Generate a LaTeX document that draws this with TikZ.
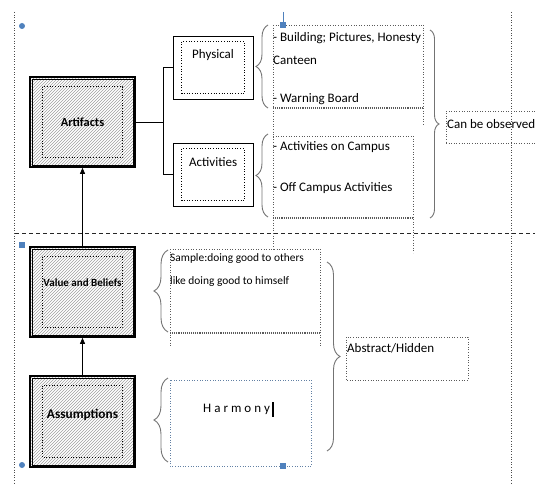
\documentclass[tikz,border=0pt]{standalone}
\usepackage{fontspec}
\setmainfont{Carlito}
\usetikzlibrary{patterns,decorations.pathreplacing,arrows.meta,calc}
\definecolor{handleblue}{RGB}{79,129,189}
\definecolor{boxgray}{RGB}{90,90,90}

\tikzset{
  layer/.style={draw=black, line width=1.6pt, pattern=north east lines, pattern color=gray!75,
    minimum width=105pt, inner sep=0pt, font=\bfseries},
  subbox/.style={draw=black, line width=0.8pt, fill=white, minimum width=80pt, minimum height=63pt},
  txt/.style={anchor=west, inner sep=0pt, font=\fontsize{13}{15}\selectfont},
  smalltxt/.style={anchor=west, inner sep=0pt, font=\fontsize{11.4}{13}\selectfont},
  tbox/.style={draw=boxgray, dotted, line width=0.6pt},
  tboxbottom/.style={draw=boxgray, densely dotted, line width=1.1pt},
  bracket/.style={draw=gray!90!black, line width=0.9pt, decorate},
  guide/.style={draw=black!70, dotted, line width=0.6pt},
  link/.style={draw=black, line width=0.8pt},
  uparrow/.style={draw=black, line width=0.8pt, -{Triangle[length=6pt,width=5pt]}},
  handle/.style={fill=handleblue, draw=none}
}
\newcommand{\lsp}{\hspace{3pt}}

\begin{document}
\begin{tikzpicture}[x=1pt, y=-1pt]
\useasboundingbox (0,0) rectangle (535,484);

% page guides
\draw[guide] (14,12) -- (14,484);
\draw[guide] (511,12) -- (511,484);
\draw[black!85, line width=0.8pt, dash pattern=on 4pt off 3pt] (15,233) -- (535,233);

% culture layers
\node[layer, minimum height=90pt] (art) at (82.5,122) {};
\node[layer, minimum height=90pt] (val) at (82.5,292) {};
\node[layer, minimum height=91pt] (asm) at (82.5,421.5) {};
\foreach \b in {art,val,asm}{
  \draw[line width=0.5pt] ($(\b.north west)+(2.6,2.6)$) rectangle ($(\b.south east)+(-2.6,-2.6)$);
  \draw[black, dotted, line width=0.7pt] ($(\b.north west)+(13,10.5)$) rectangle ($(\b.south east)+(-13,-10.5)$);
}
\node[font=\bfseries\fontsize{12.4}{14}\selectfont] (artlbl) at (art.center) {Artifacts};
\node[font=\bfseries\fontsize{11}{13}\selectfont] (vallbl) at ($(val.center)+(0,-9)$) {Value and Beliefs};
\node[font=\bfseries\fontsize{13.3}{15}\selectfont] (asmlbl) at ($(asm.center)+(0,-7)$) {Assumptions};

\draw[uparrow] (val.north) -- (art.south);
\draw[uparrow] (asm.north) -- (val.south);

% artifact categories
\node[subbox] (phys) at (213,67.5) {};
\node[subbox] (act) at (213,174.5) {};
\foreach \b in {phys,act}{
  \draw[black, dotted, line width=0.7pt] ($(\b.north west)+(9,6)$) rectangle ($(\b.south east)+(-9,-6)$);
}
\node[txt] (physlbl) at (192,55) {Physical};
\node[txt] (actlbl) at (189,162) {Activities};

\coordinate (fork) at (163,122);
\draw[link] (art.east) -- (fork);
\draw[link] (phys.west) -| (fork);
\draw[link] (act.west) -| (fork);

% braces
\draw[bracket, decoration={brace, amplitude=12pt}] (268,108) -- (268,25);
\draw[bracket, decoration={brace, amplitude=12pt}] (268,217) -- (268,134);
\draw[bracket, decoration={brace, amplitude=9pt}] (430,30) -- (430,218);
\draw[bracket, decoration={brace, amplitude=14pt}] (168,332) -- (168,250);
\draw[bracket, decoration={brace, amplitude=14pt}] (168,462) -- (168,378);
\draw[bracket, decoration={brace, amplitude=13pt}] (327,262) -- (327,451);

% text frames
\draw[tbox] (273,25) -- (423,25) (423,25) -- (423,126) (273,25) -- (273,250);
\draw[tboxbottom] (273,108) -- (423,108);
\draw[tbox] (273,136) -- (413,136) (413,136) -- (413,253);
\draw[tboxbottom] (273,218) -- (413,218);
\draw[tbox] (170,249) -- (320,249) (170,249) -- (170,347) (320,249) -- (320,347);
\draw[tboxbottom] (170,333) -- (320,333);
\draw[tbox, draw=handleblue!60!gray] (170,380) rectangle (311,466);
\draw[tbox] (535,111) -- (446,111) -- (446,143) (446,143) -- (535,143);
\draw[tbox] (346,337) rectangle (468,380);

% texts
\node[txt] (b1) at (273,38) {- Building; Pictures, Honesty};
\node[txt] (b2) at (273,60) {Canteen};
\node[txt] (b3) at (273,99) {- Warning Board};
\node[txt] (c1) at (273,147) {- Activities on Campus};
\node[txt] (c2) at (273,188) {- Off Campus Activities};
\node[txt] (obs) at (447,124) {Can be observed};
\node[smalltxt] (s1) at (170,259) {Sample:doing good to others};
\node[smalltxt] (s2) at (170,282) {like doing good to himself};
\node[txt] (harm) at (203,409) {H\lsp a\lsp r\lsp m\lsp o\lsp n\lsp y};
\draw[black, line width=1.4pt] (273,402) -- (273,417);
\node[txt] (abs) at (347,348) {Abstract/Hidden};

% selection handles
\fill[handle] (22,26) circle (3);
\fill[handle] (19,242) rectangle (25,248);
\fill[handle] (22,465) circle (3);
\draw[handleblue, line width=0.6pt] (283,12) -- (283,22);
\fill[handle] (280,22) rectangle (286,28);
\fill[handle] (280,463) rectangle (286,469);
\end{tikzpicture}
\end{document}
